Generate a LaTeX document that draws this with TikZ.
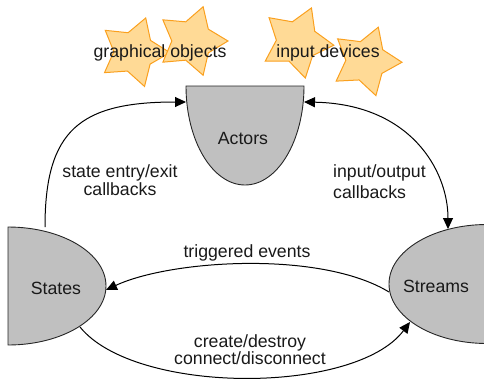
\documentclass[tikz,border=0pt]{standalone}
\usepackage{fontspec}
\setmainfont{Liberation Sans}
\usetikzlibrary{arrows.meta}
\definecolor{starfill}{RGB}{255,218,150}
\definecolor{starline}{RGB}{250,160,30}
\definecolor{shapegray}{RGB}{192,192,192}
\newcommand{\drawstar}[4]{%
  \draw[starsty] ({#1+#3*cos(#4)},{#2-#3*sin(#4)})
    \foreach \k in {0,...,4}{
      -- ({#1+0.56*#3*cos(#4+72*\k+36)},{#2-0.56*#3*sin(#4+72*\k+36)})
      -- ({#1+#3*cos(#4+72*\k+72)},{#2-#3*sin(#4+72*\k+72)})
    } -- cycle;}
\begin{document}
\begin{tikzpicture}[x=1pt,y=-1pt,
  starsty/.style={fill=starfill,draw=starline,line width=1pt,line join=miter},
  blob/.style={fill=shapegray,draw=black!85,line width=0.9pt},
  lbl/.style={font=\fontsize{17.7}{20}\selectfont,text=black!90,inner sep=0pt},
  conn/.style={line width=1pt,-{Triangle[length=11pt,width=10pt]}},
  conn2/.style={line width=1pt,{Triangle[length=11pt,width=10pt]}-{Triangle[length=11pt,width=10pt]}}]
\useasboundingbox (0,0) rectangle (484,383);
\clip (0,0) rectangle (484,383);
% stars
\drawstar{134}{52}{36}{71}
\drawstar{192}{41}{36}{72}
\drawstar{297}{42}{37}{67}
\drawstar{366}{61}{36}{70}
\node[lbl] (gobj) at (160,53) {graphical objects};
\node[lbl] (idev) at (328,53) {input devices};
% shapes
\path[blob] (186,86) -- (304,86) arc[start angle=0,end angle=180,x radius=59,y radius=99] -- cycle;
\path[blob] (8,227) arc[start angle=-90,end angle=90,x radius=98,y radius=59] -- cycle;
\path[blob] (487,224.5) arc[start angle=-90,end angle=-270,x radius=98,y radius=59.5] -- cycle;
\node[lbl] (actors) at (243,138) {Actors};
\node[lbl] (states) at (56,288) {States};
\node[lbl] (streams) at (436,286) {Streams};
% ports
\coordinate (actL) at (186,102);
\coordinate (actR) at (304,102);
\coordinate (stT) at (45,227);
\coordinate (stR) at (106,290);
\coordinate (stB) at (80,327);
\coordinate (smT) at (448,229);
\coordinate (smL) at (389,292);
\coordinate (smLL) at (410,322);
% connectors
\draw[conn] (stT) .. controls (45,130) and (80,102) .. (actL);
\draw[conn2] (actR) .. controls (410,104) and (448,170) .. (smT);
\draw[conn] (smL) .. controls (320,250) and (170,260) .. (stR);
\draw[conn] (stB) .. controls (135,395) and (355,395) .. (smLL);
% labels
\node[lbl,align=center] (l1) at (120,180) {state entry/exit\\[-2pt]callbacks};
\node[lbl,align=left,anchor=west] (l2) at (333,182) {input/output\\[1pt]callbacks};
\node[lbl] (l3) at (247,253) {triggered events};
\node[lbl,align=center] (l4) at (250,350) {create/destroy\\[-3pt]connect/disconnect};
\end{tikzpicture}
\end{document}
